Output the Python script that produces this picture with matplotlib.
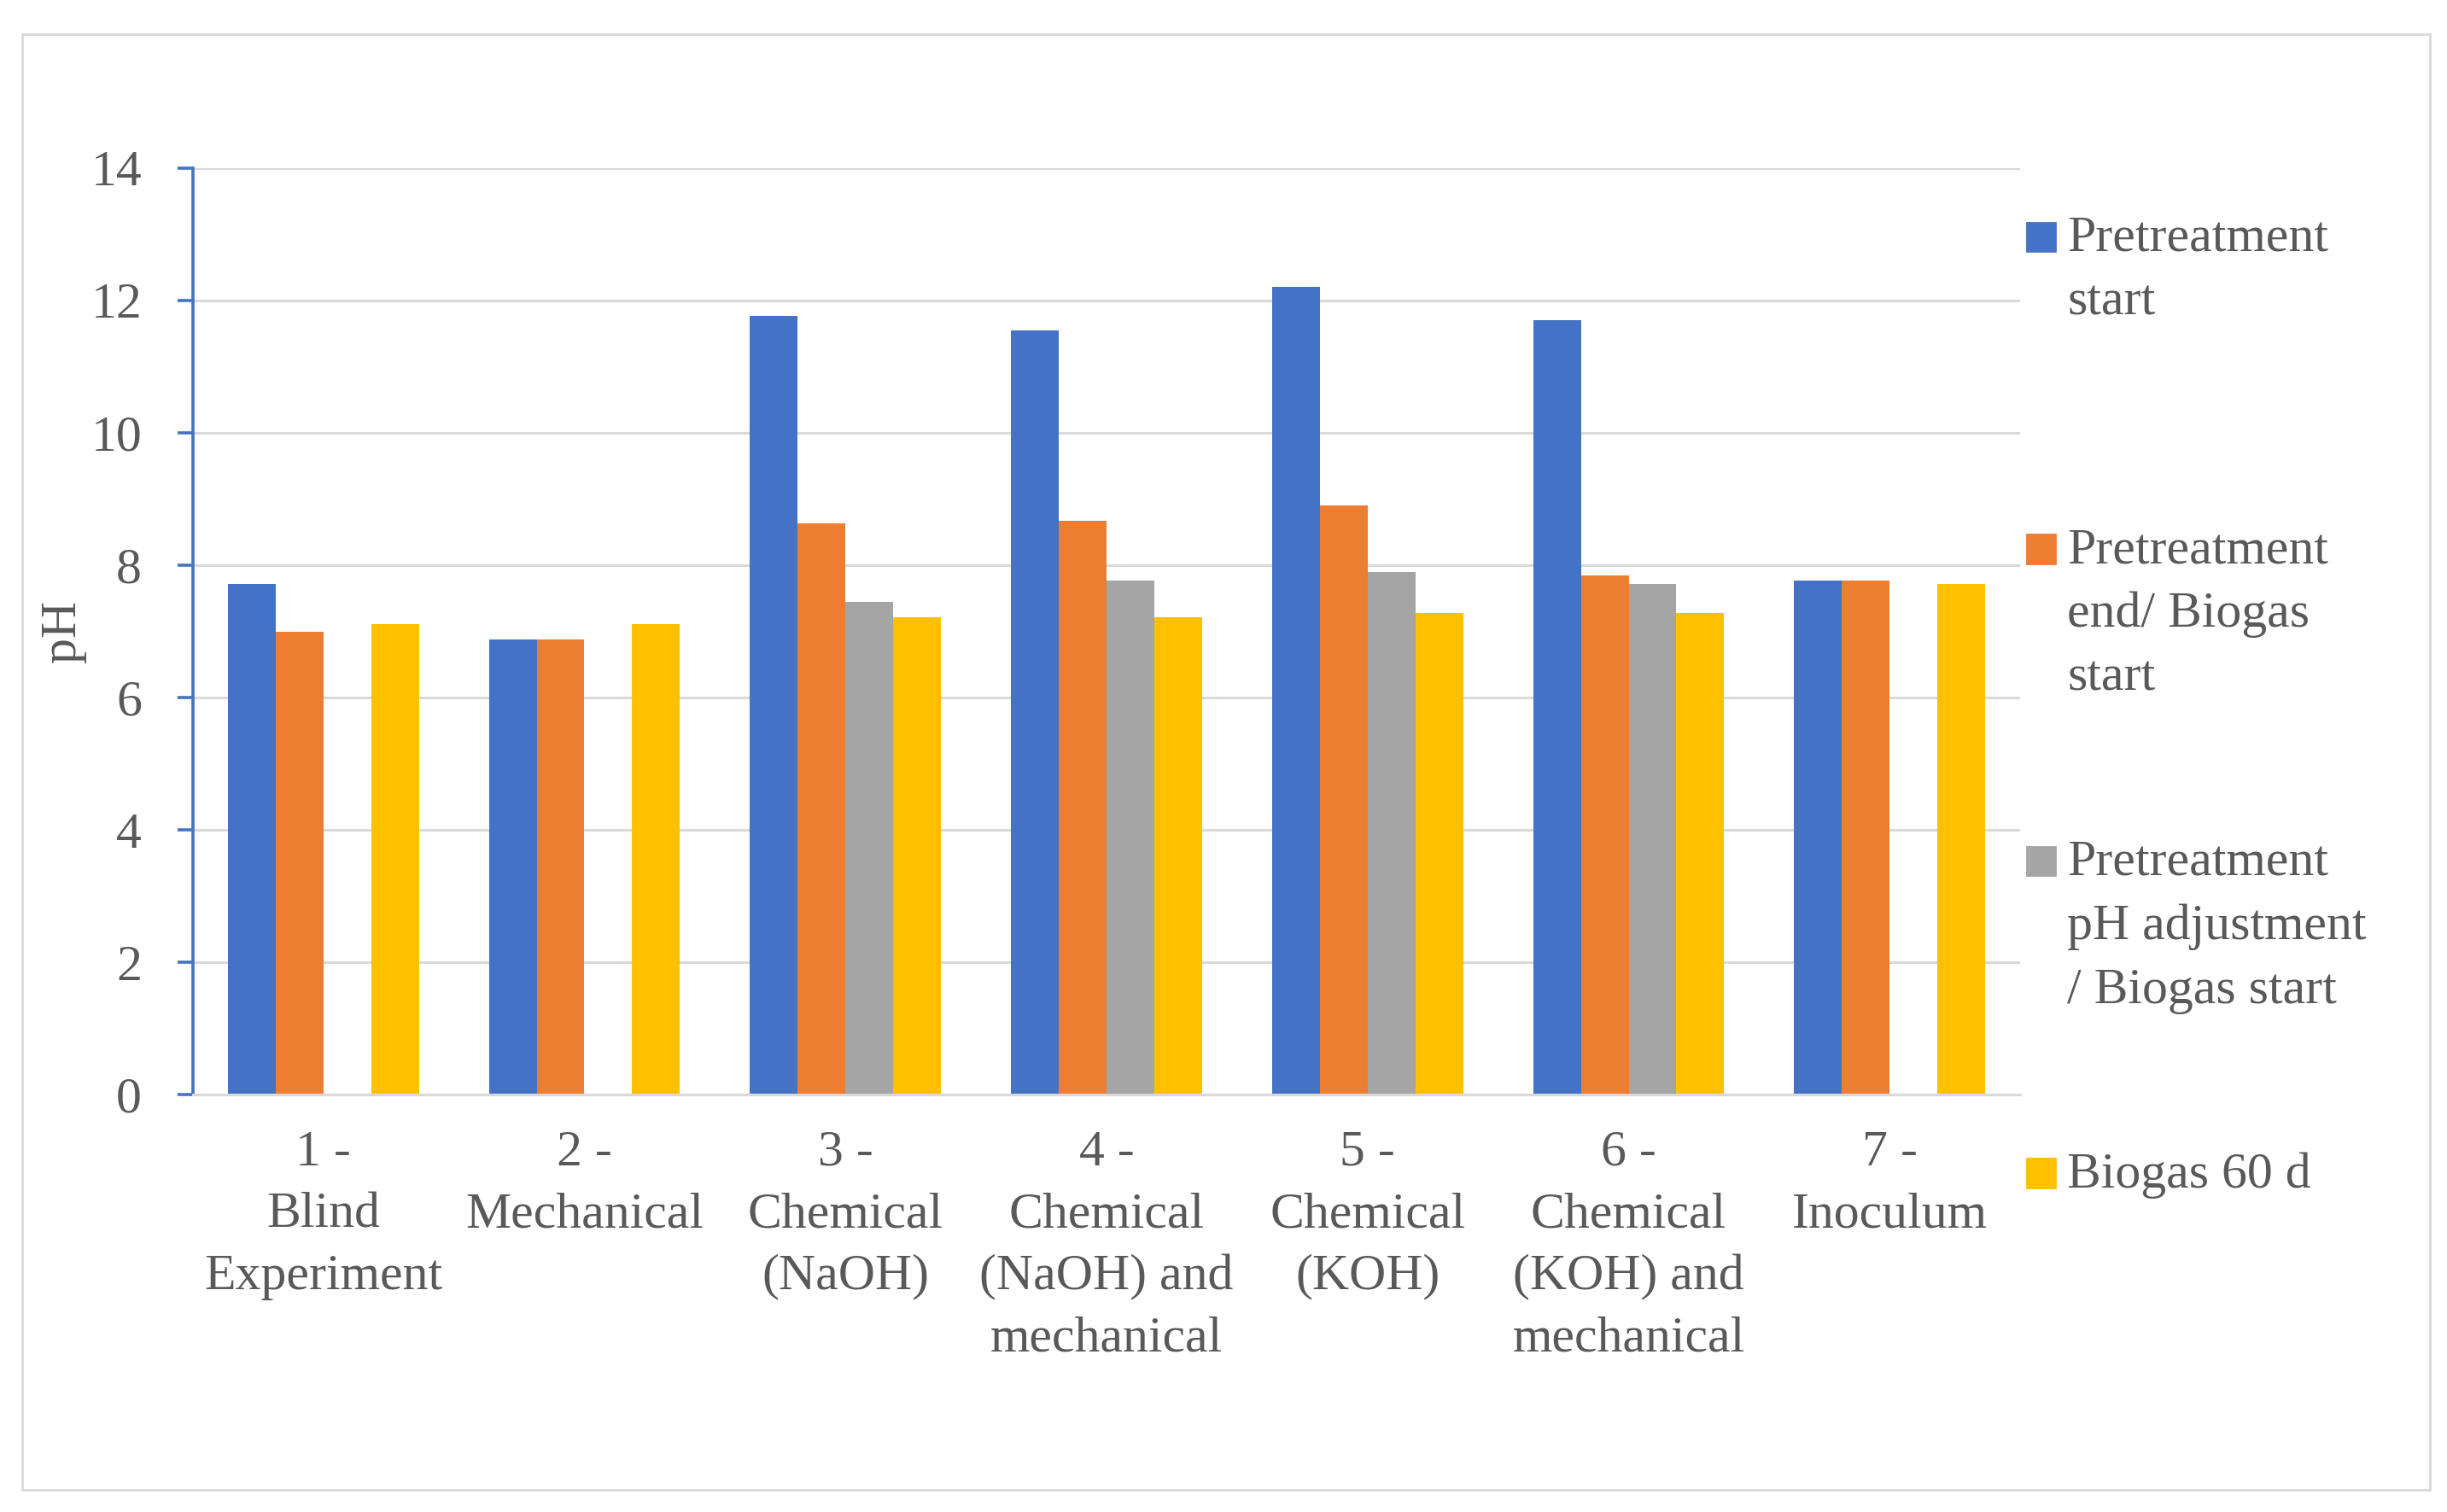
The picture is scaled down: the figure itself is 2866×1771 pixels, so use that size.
import matplotlib.pyplot as plt
import numpy as np
from matplotlib.patches import Rectangle

# Werte
kategorien = ["1 -\nBlind\nExperiment", "2 -\nMechanical", "3 -\nChemical\n(NaOH)",
              "4 -\nChemical\n(NaOH) and\nmechanical", "5 -\nChemical\n(KOH)",
              "6 -\nChemical\n(KOH) and\nmechanical", "7 -\nInoculum"]
vorbehandlung_start = [7.72, 6.87, 11.77, 11.54, 12.20, 11.70, 7.77]
vorbehandlung_ende = [6.99, 6.87, 8.63, 8.67, 8.90, 7.84, 7.77]
ph_einstellung = [np.nan, np.nan, 7.44, 7.77, 7.89, 7.72, np.nan]
biogas_60d = [7.11, 7.11, 7.21, 7.21, 7.27, 7.27, 7.71]

serien = [vorbehandlung_start, vorbehandlung_ende, ph_einstellung, biogas_60d]
namen = ["Pretreatment\nstart", "Pretreatment\nend/ Biogas\nstart",
         "Pretreatment\npH adjustment\n/ Biogas start", "Biogas 60 d"]
farben = ["#4472C4", "#ED7D31", "#A5A5A5", "#FFC000"]

textfarbe = "#595959"
plt.rcParams['font.family'] = ['Liberation Serif', 'DejaVu Serif']
plt.rcParams['font.size'] = 21.5

fig = plt.figure(figsize=(14.33, 8.855), dpi=200)
ax = fig.add_axes([0.0788, 0.276, 0.7468, 0.613])

x = np.arange(len(kategorien))
breite = 0.183
for i, (werte, farbe) in enumerate(zip(serien, farben)):
    ax.bar(x + (i - 1.5) * breite, werte, breite, color=farbe, zorder=2)

ax.set_xlim(-0.5, len(kategorien) - 0.5)
ax.set_ylim(0, 14)
ax.set_yticks(np.arange(0, 15, 2))
ax.set_xticks(x)
ax.set_xticklabels(kategorien, color=textfarbe, linespacing=1.45)
ax.tick_params(axis='x', length=0, pad=15)
ax.tick_params(axis='y', length=6.5, width=1.3, color="#4472C4", colors=textfarbe, pad=15)
for lab in ax.get_yticklabels():
    lab.set_color(textfarbe)

ax.grid(axis='y', color="#D9D9D9", linewidth=1.1)
ax.set_axisbelow(True)
for s in ["top", "right"]:
    ax.spines[s].set_visible(False)
ax.spines["left"].set_color("#4472C4")
ax.spines["left"].set_linewidth(1.3)
ax.spines["bottom"].set_color("#D9D9D9")
ax.spines["bottom"].set_linewidth(1.1)

ax.set_ylabel("pH", color=textfarbe, labelpad=2)

# Legende rechts, von Hand gesetzt
y_start = 1 - 151 / 964
schritt = 199 / 964
for i, (name, farbe) in enumerate(zip(namen, farben)):
    y = y_start - i * schritt
    fig.patches.append(Rectangle((1292 / 1560, y - 0.0095), 0.0118, 0.019,
                                 transform=fig.transFigure, color=farbe))
    fig.text(1318 / 1560, y + 0.014, name, color=textfarbe, va='top', ha='left',
             linespacing=1.5)

# Rahmen um die Grafik
fig.patches.append(Rectangle((14 / 1560, 1 - 950 / 964), 1535 / 1560, 928 / 964,
                             transform=fig.transFigure, fill=False,
                             edgecolor="#D9D9D9", linewidth=1.0))

fig.savefig("out.png", dpi=200)
